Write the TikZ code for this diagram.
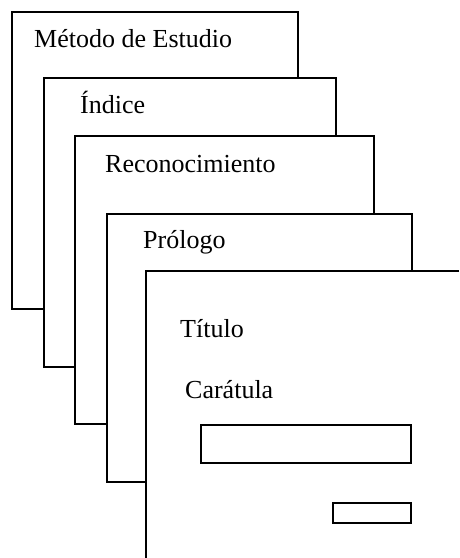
\documentclass[tikz,border=0pt]{standalone}
\usepackage{fontspec}
\setmainfont{Liberation Serif}
\begin{document}
\begin{tikzpicture}[x=1pt,y=-1pt,
  page/.style={draw=black,fill=white,line width=1.1pt},
  field/.style={draw=black,fill=white,line width=1.1pt},
  lbl/.style={anchor=base west,inner sep=0pt,font=\fontsize{26}{30}\selectfont}]
\useasboundingbox (0,0) rectangle (459,558);
% stacked pages
\draw[page] (12,12) rectangle (298,309);
\draw[page] (44,78) rectangle (336,367);
\draw[page] (75,136) rectangle (374,424);
\draw[page] (107,214) rectangle (412,482);
\fill[white] (146,271) rectangle (459,558);
\draw[line width=1.1pt] (459,271) -- (146,271) -- (146,558);
% labels
\node[lbl] (metodo) at (34,47) {Método de Estudio};
\node[lbl] (indice) at (80,113) {Índice};
\node[lbl] (recon) at (105,172) {Reconocimiento};
\node[lbl] (prologo) at (143,248) {Prólogo};
\node[lbl] (titulo) at (180,337) {Título};
\node[lbl] (caratula) at (185,398) {Carátula};
% fields on the cover
\draw[field] (201,425) rectangle (411,463);
\draw[field] (333,503) rectangle (411,523);
\end{tikzpicture}
\end{document}
